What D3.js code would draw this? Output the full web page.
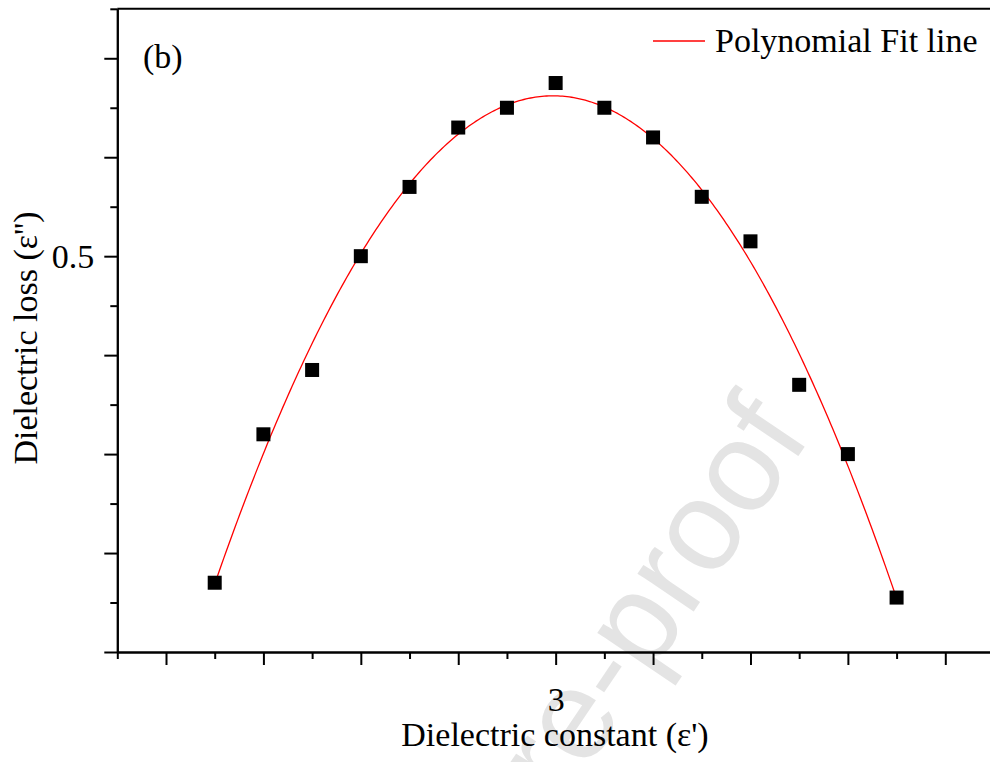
<!DOCTYPE html>
<html>
<head>
<meta charset="utf-8">
<script src="https://cdn.jsdelivr.net/npm/d3@7/dist/d3.min.js"></script>
<style>
  html, body { margin: 0; padding: 0; background: #ffffff; }
  svg { display: block; }
  text { font-family: "Liberation Serif", "Times New Roman", serif; fill: #000; }
</style>
</head>
<body>
<svg id="chart" width="990" height="762"></svg>
<script>
// Dielectric constant (ε') of each measurement
const epsReal = [2.65, 2.70, 2.75, 2.80, 2.85, 2.90, 2.95, 3.00, 3.05, 3.10, 3.15, 3.20, 3.25, 3.30, 3.35];
// Dielectric loss (ε'') of each measurement
const epsLoss = [0.170, 0.320, 0.385, 0.500, 0.570, 0.630, 0.650, 0.675, 0.650, 0.620, 0.560, 0.515, 0.370, 0.300, 0.155];

// Axis ticks: major / minor positions, and the ones that carry a label
const xMajorTicks = [2.6, 2.7, 2.8, 2.9, 3.0, 3.1, 3.2, 3.3, 3.4];
const xMinorTicks = [2.55, 2.65, 2.75, 2.85, 2.95, 3.05, 3.15, 3.25, 3.35, 3.45];
const xTickLabels = [3];
const yMajorTicks = [0.1, 0.2, 0.3, 0.4, 0.5, 0.6, 0.7];
const yMinorTicks = [0.15, 0.25, 0.35, 0.45, 0.55, 0.65, 0.75];
const yTickLabels = [0.5];

const FIT_ORDER = 2;

const svg = d3.select("#chart");
const plotL = 117.3, plotR = 994, plotT = 8.8, plotB = 652;

const x = d3.scaleLinear().domain([2.55, 3.45]).range([plotL, plotR]);
const y = d3.scaleLinear().domain([0.1, 0.75]).range([plotB, plotT]);

// Least-squares polynomial fit (normal equations + Gaussian elimination)
function polyFit(xs, ys, order) {
  const n = order + 1;
  const A = Array.from({length: n}, () => new Array(n + 1).fill(0));
  xs.forEach((xv, k) => {
    for (let i = 0; i < n; i++) {
      for (let j = 0; j < n; j++) A[i][j] += Math.pow(xv, i + j);
      A[i][n] += ys[k] * Math.pow(xv, i);
    }
  });
  for (let c = 0; c < n; c++) {
    let p = c;
    for (let r = c + 1; r < n; r++) if (Math.abs(A[r][c]) > Math.abs(A[p][c])) p = r;
    [A[c], A[p]] = [A[p], A[c]];
    for (let r = 0; r < n; r++) {
      if (r === c) continue;
      const f = A[r][c] / A[c][c];
      for (let k = c; k <= n; k++) A[r][k] -= f * A[c][k];
    }
  }
  return A.map((row, i) => row[n] / row[i]);
}
const coef = polyFit(epsReal, epsLoss, FIT_ORDER);
const fitY = v => coef.reduce((s, c, i) => s + c * Math.pow(v, i), 0);

// Faint diagonal watermark behind the plot
svg.append("text")
  .attr("transform", "translate(812,436) rotate(-56)")
  .attr("text-anchor", "end")
  .style("font-family", "'Liberation Sans', Arial, sans-serif")
  .style("font-size", "128px")
  .style("fill", "#e4e4e4")
  .text("Journal Pre-proof");

// Frame: top and right edges
svg.append("line").attr("x1", plotL).attr("x2", plotR).attr("y1", plotT).attr("y2", plotT)
  .attr("stroke", "#000").attr("stroke-width", 2);
svg.append("line").attr("x1", plotR).attr("x2", plotR).attr("y1", plotT).attr("y2", plotB)
  .attr("stroke", "#000").attr("stroke-width", 2);

function styleAxis(g) {
  g.selectAll("path.domain").attr("stroke", "#000").attr("stroke-width", 2);
  g.selectAll(".tick line").attr("stroke", "#000").attr("stroke-width", 2);
  g.selectAll(".tick text").style("font-family", "'Liberation Serif', 'Times New Roman', serif")
    .style("font-size", "34px").attr("fill", "#000");
}

// Bottom axis
const gxMinor = svg.append("g").attr("transform", `translate(0,${plotB})`)
  .call(d3.axisBottom(x).tickValues(xMinorTicks).tickSize(7).tickSizeOuter(0).tickFormat(""));
styleAxis(gxMinor);
const gxMajor = svg.append("g").attr("transform", `translate(0,${plotB})`)
  .call(d3.axisBottom(x).tickValues(xMajorTicks).tickSize(13).tickSizeOuter(0).tickPadding(22)
    .tickFormat(d => xTickLabels.some(v => Math.abs(v - d) < 1e-9) ? d3.format("d")(d) : ""));
styleAxis(gxMajor);

// Left axis
const gyMinor = svg.append("g").attr("transform", `translate(${plotL},0)`)
  .call(d3.axisLeft(y).tickValues(yMinorTicks).tickSize(7).tickSizeOuter(0).tickFormat(""));
styleAxis(gyMinor);
const gyMajor = svg.append("g").attr("transform", `translate(${plotL},0)`)
  .call(d3.axisLeft(y).tickValues(yMajorTicks).tickSize(13).tickSizeOuter(0).tickPadding(10)
    .tickFormat(d => yTickLabels.some(v => Math.abs(v - d) < 1e-9) ? d3.format(".1f")(d) : ""));
styleAxis(gyMajor);

// Polynomial fit curve
const x0 = d3.min(epsReal), x1 = d3.max(epsReal);
const curvePts = d3.range(0, 301).map(i => x0 + (x1 - x0) * i / 300);
svg.append("path")
  .datum(curvePts)
  .attr("fill", "none")
  .attr("stroke", "#ff0000")
  .attr("stroke-width", 1.3)
  .attr("d", d3.line().x(d => x(d)).y(d => y(fitY(d))));

// Measured points (filled squares)
const sq = 14;
svg.append("g").selectAll("rect")
  .data(epsReal.map((v, i) => [v, epsLoss[i]]))
  .join("rect")
  .attr("x", d => x(d[0]) - sq / 2)
  .attr("y", d => y(d[1]) - sq / 2)
  .attr("width", sq).attr("height", sq)
  .attr("fill", "#000");

// Axis titles
svg.append("text")
  .attr("x", 555).attr("y", 746)
  .attr("text-anchor", "middle")
  .style("font-size", "34px")
  .text("Dielectric constant (ε')");
svg.append("text")
  .attr("transform", "translate(37,338) rotate(-90)")
  .attr("text-anchor", "middle")
  .style("font-size", "34px")
  .text("Dielectric loss (ε'')");

// Panel tag
svg.append("text")
  .attr("x", 143).attr("y", 68)
  .style("font-size", "34px")
  .text("(b)");

// Legend
svg.append("line").attr("x1", 653).attr("x2", 705).attr("y1", 41).attr("y2", 41)
  .attr("stroke", "#ff0000").attr("stroke-width", 1.3);
svg.append("text")
  .attr("x", 715).attr("y", 52)
  .style("font-size", "34px")
  .text("Polynomial Fit line");
</script>
</body>
</html>
